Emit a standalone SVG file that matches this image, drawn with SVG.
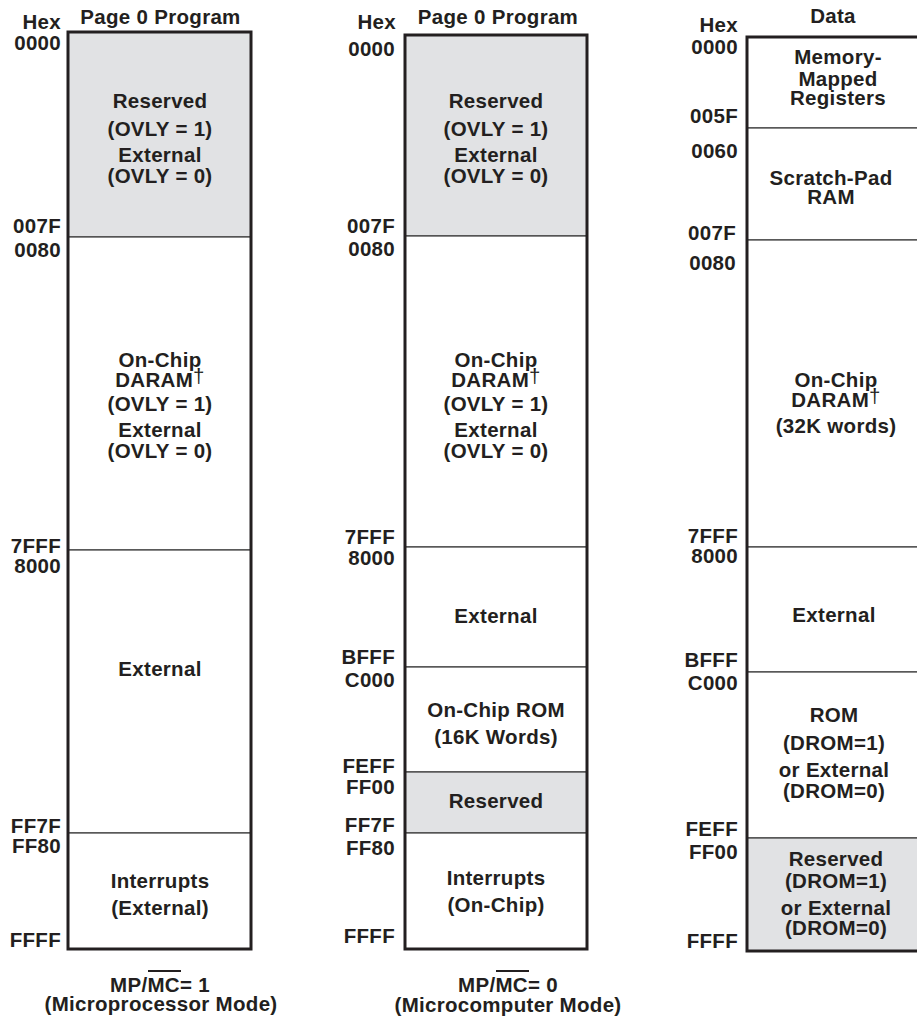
<svg xmlns="http://www.w3.org/2000/svg" width="917" height="1017" viewBox="0 0 917 1017">
<style>
text{font-family:"Liberation Sans",Arial,Helvetica,sans-serif;font-weight:bold;font-size:20.5px;letter-spacing:0.3px;fill:#231f20}
.l{text-anchor:end}
.c{text-anchor:middle}
.w{fill:#ffffff;stroke:#3a3a3a;stroke-width:1.2}
.g{fill:#e1e2e4;stroke:#3a3a3a;stroke-width:1.2}
.b{fill:none;stroke:#231f20;stroke-width:3}
.dg{font-weight:normal}
.ov{stroke:#231f20;stroke-width:2}
</style>
<rect width="917" height="1017" fill="#ffffff"/>

<!-- Column 1 -->
<g id="col1-header">
<text class="l" x="61" y="29">Hex</text>
<text class="c" x="160.5" y="24">Page 0 Program</text>
</g>
<g id="col1-r1">
<rect class="g" x="68" y="32" width="183" height="205"/>
<text class="c" x="160" y="108">Reserved</text>
<text class="c" x="160" y="136">(OVLY = 1)</text>
<text class="c" x="160" y="162">External</text>
<text class="c" x="160" y="183">(OVLY = 0)</text>
</g>
<g id="col1-r2">
<rect class="w" x="68" y="237" width="183" height="313"/>
<text class="c" x="160" y="367">On-Chip</text>
<text class="c" x="160" y="387">DARAM<tspan class="dg" dy="-4">†</tspan></text>
<text class="c" x="160" y="411">(OVLY = 1)</text>
<text class="c" x="160" y="437">External</text>
<text class="c" x="160" y="458">(OVLY = 0)</text>
</g>
<g id="col1-r3">
<rect class="w" x="68" y="550" width="183" height="283"/>
<text class="c" x="160" y="676">External</text>
</g>
<g id="col1-r4">
<rect class="w" x="68" y="833" width="183" height="116"/>
<text class="c" x="160" y="888">Interrupts</text>
<text class="c" x="160" y="915">(External)</text>
</g>
<g id="col1-border"><rect class="b" x="68" y="32" width="183" height="917"/></g>
<g id="col1-labels">
<text class="l" x="61" y="50">0000</text>
<text class="l" x="61" y="233">007F</text>
<text class="l" x="61" y="257">0080</text>
<text class="l" x="61" y="553">7FFF</text>
<text class="l" x="61" y="573">8000</text>
<text class="l" x="61" y="833">FF7F</text>
<text class="l" x="61" y="853">FF80</text>
<text class="l" x="61" y="947">FFFF</text>
</g>
<g id="col1-footer">
<text class="c" x="160" y="992">MP/MC= 1</text>
<line class="ov" x1="148" y1="971" x2="181" y2="971"/>
<text class="c" x="161" y="1011">(Microprocessor Mode)</text>
</g>

<!-- Column 2 -->
<g id="col2-header">
<text class="l" x="396" y="29">Hex</text>
<text class="c" x="498" y="24">Page 0 Program</text>
</g>
<g id="col2-r1">
<rect class="g" x="405" y="35" width="182" height="201"/>
<text class="c" x="496" y="108">Reserved</text>
<text class="c" x="496" y="136">(OVLY = 1)</text>
<text class="c" x="496" y="162">External</text>
<text class="c" x="496" y="183">(OVLY = 0)</text>
</g>
<g id="col2-r2">
<rect class="w" x="405" y="236" width="182" height="311"/>
<text class="c" x="496" y="367">On-Chip</text>
<text class="c" x="496" y="387">DARAM<tspan class="dg" dy="-4">†</tspan></text>
<text class="c" x="496" y="411">(OVLY = 1)</text>
<text class="c" x="496" y="437">External</text>
<text class="c" x="496" y="458">(OVLY = 0)</text>
</g>
<g id="col2-r3">
<rect class="w" x="405" y="547" width="182" height="120"/>
<text class="c" x="496" y="623">External</text>
</g>
<g id="col2-r4">
<rect class="w" x="405" y="667" width="182" height="105"/>
<text class="c" x="496" y="717">On-Chip ROM</text>
<text class="c" x="496" y="744">(16K Words)</text>
</g>
<g id="col2-r5">
<rect class="g" x="405" y="772" width="182" height="61"/>
<text class="c" x="496" y="808">Reserved</text>
</g>
<g id="col2-r6">
<rect class="w" x="405" y="833" width="182" height="116"/>
<text class="c" x="496" y="885">Interrupts</text>
<text class="c" x="496" y="912">(On-Chip)</text>
</g>
<g id="col2-border"><rect class="b" x="405" y="35" width="182" height="914"/></g>
<g id="col2-labels">
<text class="l" x="395" y="56">0000</text>
<text class="l" x="395" y="233">007F</text>
<text class="l" x="395" y="256">0080</text>
<text class="l" x="395" y="544">7FFF</text>
<text class="l" x="395" y="565">8000</text>
<text class="l" x="395" y="664">BFFF</text>
<text class="l" x="395" y="687">C000</text>
<text class="l" x="395" y="773">FEFF</text>
<text class="l" x="395" y="794">FF00</text>
<text class="l" x="395" y="832">FF7F</text>
<text class="l" x="395" y="855">FF80</text>
<text class="l" x="395" y="943">FFFF</text>
</g>
<g id="col2-footer">
<text class="c" x="508" y="992">MP/MC= 0</text>
<line class="ov" x1="496" y1="971" x2="529" y2="971"/>
<text class="c" x="508" y="1012">(Microcomputer Mode)</text>
</g>

<!-- Column 3 -->
<g id="col3-header">
<text class="l" x="738" y="32">Hex</text>
<text class="c" x="833" y="23">Data</text>
</g>
<g id="col3-r1">
<rect class="w" x="747" y="37" width="183" height="91"/>
<text class="c" x="838" y="64">Memory-</text>
<text class="c" x="838" y="86">Mapped</text>
<text class="c" x="838" y="105">Registers</text>
</g>
<g id="col3-r2">
<rect class="w" x="747" y="128" width="183" height="112"/>
<text class="c" x="831" y="185">Scratch-Pad</text>
<text class="c" x="831" y="204">RAM</text>
</g>
<g id="col3-r3">
<rect class="w" x="747" y="240" width="183" height="307"/>
<text class="c" x="836" y="387">On-Chip</text>
<text class="c" x="836" y="407">DARAM<tspan class="dg" dy="-4">†</tspan></text>
<text class="c" x="836" y="433">(32K words)</text>
</g>
<g id="col3-r4">
<rect class="w" x="747" y="547" width="183" height="125"/>
<text class="c" x="834" y="622">External</text>
</g>
<g id="col3-r5">
<rect class="w" x="747" y="672" width="183" height="166"/>
<text class="c" x="834" y="722">ROM</text>
<text class="c" x="834" y="750">(DROM=1)</text>
<text class="c" x="834" y="777">or External</text>
<text class="c" x="834" y="798">(DROM=0)</text>
</g>
<g id="col3-r6">
<rect class="g" x="747" y="838" width="183" height="113"/>
<text class="c" x="836" y="866">Reserved</text>
<text class="c" x="836" y="888">(DROM=1)</text>
<text class="c" x="836" y="915">or External</text>
<text class="c" x="836" y="935">(DROM=0)</text>
</g>
<g id="col3-border"><rect class="b" x="747" y="37" width="183" height="914"/></g>
<g id="col3-labels">
<text class="l" x="738" y="54">0000</text>
<text class="l" x="738" y="123">005F</text>
<text class="l" x="738" y="158">0060</text>
<text class="l" x="736" y="240">007F</text>
<text class="l" x="736" y="270">0080</text>
<text class="l" x="738" y="543">7FFF</text>
<text class="l" x="738" y="563">8000</text>
<text class="l" x="738" y="667">BFFF</text>
<text class="l" x="738" y="690">C000</text>
<text class="l" x="738" y="836">FEFF</text>
<text class="l" x="738" y="859">FF00</text>
<text class="l" x="738" y="948">FFFF</text>
</g>
<g id="connectors"></g>
</svg>
